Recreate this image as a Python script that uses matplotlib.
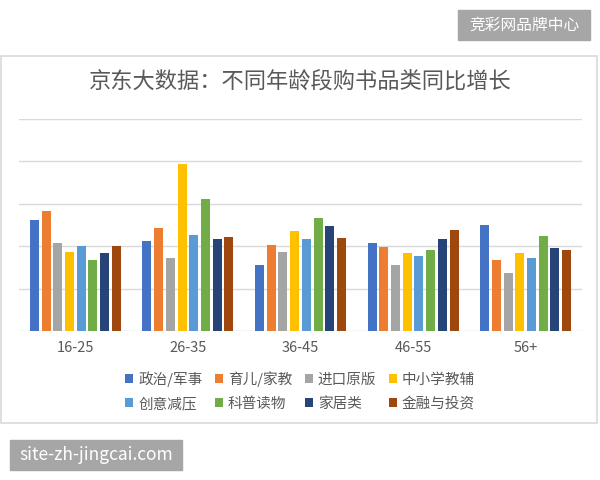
import numpy as np
import matplotlib.pyplot as plt
from matplotlib.patches import Rectangle

plt.rcParams['font.family'] = ['Noto Sans CJK SC', 'DejaVu Sans']

# data (in grid-step units)
ages = ['16-25', '26-35', '36-45', '46-55', '56+']
cats = ['政治/军事', '育儿/家教', '进口原版', '中小学教辅',
        '创意减压', '科普读物', '家居类', '金融与投资']
politics = [2.62, 2.12, 1.56, 2.07, 2.51]
parenting = [2.83, 2.44, 2.02, 1.98, 1.67]
imported = [2.07, 1.71, 1.86, 1.55, 1.36]
school = [1.86, 3.93, 2.37, 1.85, 1.85]
creative = [2.00, 2.27, 2.16, 1.76, 1.72]
science = [1.67, 3.11, 2.66, 1.90, 2.23]
home = [1.85, 2.18, 2.48, 2.16, 1.96]
finance = [2.00, 2.21, 2.20, 2.39, 1.92]
series = [politics, parenting, imported, school, creative, science, home, finance]
colors = ['#4472C4', '#ED7D31', '#A5A5A5', '#FFC000',
          '#5B9BD5', '#70AD47', '#264478', '#9E480E']

W, H = 600, 480
fig = plt.figure(figsize=(6, 4.8), dpi=100)

def fx(px):
    return px / W

def fy(py):
    return 1 - py / H

# outer chart frame
fig.patches.append(Rectangle((fx(1), fy(423)), fx(596), (423 - 56) / H,
                             transform=fig.transFigure, fill=False,
                             edgecolor='#D9D9D9', linewidth=1.2))

ax = fig.add_axes([fx(19), fy(331), fx(563), (331 - 119) / H])
x = np.arange(len(ages))
step, bw = 0.104, 0.08
for i, (vals, c) in enumerate(zip(series, colors)):
    ax.bar(x + (i - 3.5) * step, vals, width=bw, color=c, label=cats[i], zorder=3)

ax.set_xlim(-0.5, 4.5)
ax.set_ylim(0, 5)
ax.set_yticks(np.arange(0, 6))
ax.set_yticklabels([])
ax.tick_params(axis='y', length=0)
ax.set_xticks(x)
ax.set_xticklabels(ages, color='#595959', fontsize=10.5)
ax.tick_params(axis='x', length=0, pad=7)
ax.grid(axis='y', color='#D9D9D9', linewidth=1, zorder=0)
ax.set_axisbelow(True)
for s in ax.spines.values():
    s.set_visible(False)

fig.text(0.5, fy(81), '京东大数据：不同年龄段购书品类同比增长', ha='center', va='center',
         fontsize=16, color='#595959')

# legend filled row by row like the original
handles, labels = ax.get_legend_handles_labels()
order = [0, 4, 1, 5, 2, 6, 3, 7]
leg = fig.legend([handles[k] for k in order], [labels[k] for k in order],
                 ncol=4, loc='center', bbox_to_anchor=(0.5, fy(391)),
                 frameon=False, fontsize=10.5, handlelength=0.55, handleheight=0.55,
                 handletextpad=0.35, columnspacing=0.85, labelspacing=0.7)
for t in leg.get_texts():
    t.set_color('#595959')

# watermark boxes
fig.patches.append(Rectangle((fx(458), fy(40)), fx(132), 30 / H,
                             transform=fig.transFigure, color='#A6A6A6'))
fig.text(fx(524), fy(25), '竞彩网品牌中心', ha='center', va='center',
         fontsize=11.3, color='white')
fig.patches.append(Rectangle((fx(10), fy(470)), fx(172), 30 / H,
                             transform=fig.transFigure, color='#A6A6A6'))
fig.text(fx(96), fy(455), 'site-zh-jingcai.com', ha='center', va='center',
         fontsize=12.5, color='white')

fig.savefig('out.png', dpi=100)
